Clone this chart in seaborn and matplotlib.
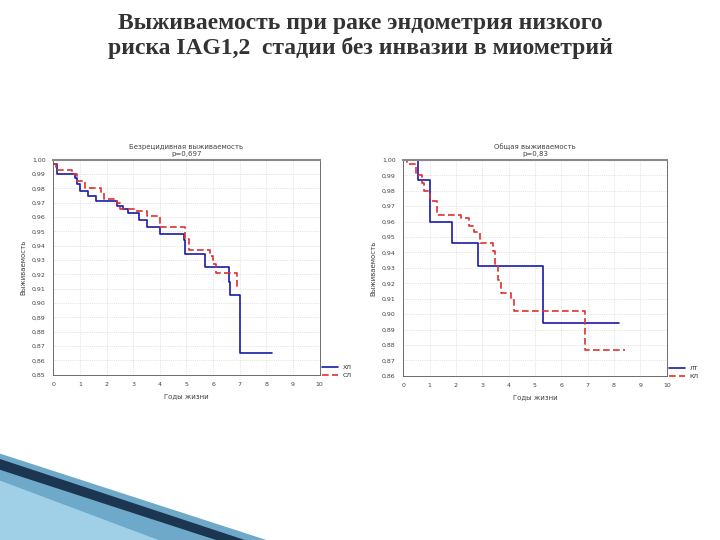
import matplotlib
matplotlib.use("Agg")
import matplotlib.pyplot as plt
import seaborn as sns
import pandas as pd
from matplotlib.patches import Polygon

sns.set_style("white")
plt.rcParams['font.family'] = ['DejaVu Sans']

title = "Выживаемость при раке эндометрия низкого\nриска IAG1,2  стадии без инвазии в миометрий"

# Left chart
l_title = "Безрецидивная выживаемость\np=0,697"
l_blue_x = [0, 0.15, 0.8, 0.9, 1.0, 1.3, 1.6, 2.4, 2.6, 2.8, 3.2, 3.5, 4.0, 4.9, 4.95, 5.7, 6.6, 6.65, 7.0, 8.2]
l_blue_y = [0.997, 0.99, 0.987, 0.983, 0.978, 0.975, 0.971, 0.968, 0.966, 0.963, 0.958, 0.953, 0.948, 0.944, 0.934, 0.925, 0.915, 0.906, 0.865, 0.865]
l_red_x = [0, 0.1, 0.7, 0.9, 1.2, 1.8, 1.9, 2.4, 2.5, 3.1, 3.5, 4.0, 4.95, 5.1, 5.9, 6.0, 6.1, 6.9]
l_red_y = [0.997, 0.993, 0.99, 0.985, 0.98, 0.977, 0.973, 0.97, 0.966, 0.964, 0.961, 0.953, 0.945, 0.937, 0.933, 0.927, 0.921, 0.91]
l_names = ["ХЛ", "СЛ"]

# Right chart
r_title = "Общая выживаемость\np=0,83"
r_blue_x = [0, 0.55, 1.0, 1.85, 2.85, 5.3, 8.2]
r_blue_y = [1.0, 0.987, 0.960, 0.946, 0.931, 0.894, 0.894]
r_red_x = [0, 0.15, 0.5, 0.7, 0.8, 1.0, 1.3, 2.2, 2.5, 2.7, 2.9, 3.4, 3.5, 3.6, 3.7, 4.1, 4.2, 6.9, 8.4]
r_red_y = [1.0, 0.997, 0.99, 0.985, 0.98, 0.973, 0.964, 0.962, 0.957, 0.953, 0.946, 0.941, 0.931, 0.922, 0.914, 0.909, 0.902, 0.877, 0.877]
r_names = ["ЛТ", "КЛ"]

fig = plt.figure(figsize=(7.2, 5.4), dpi=100)
fig.text(0.5, 0.975, title, ha='center', va='top', fontsize=17, fontweight='bold',
         family='Liberation Serif', color='#333333', linespacing=1.15)

def draw(rect, bx, by, rx, ry, names, ttl, ymin, xlabel):
    ax = fig.add_axes(rect)
    df = pd.concat([pd.DataFrame({'x': bx, 'y': by, 'g': names[0]}),
                    pd.DataFrame({'x': rx, 'y': ry, 'g': names[1]})])
    sns.lineplot(data=df, x='x', y='y', hue='g', style='g',
                 palette=['#1a1aa8', '#e03030'], dashes=[(None, None), (4, 2)],
                 drawstyle='steps-post', ax=ax, linewidth=1.2, estimator=None, sort=False)
    ax.set_xlim(0, 10)
    ax.set_ylim(ymin, 1.0)
    ax.set_xticks(range(0, 11))
    ticks = [round(1.0 - 0.01 * i, 2) for i in range(int(round((1 - ymin) / 0.01)) + 1)]
    ax.set_yticks(ticks)
    ax.set_yticklabels([f"{t:.2f}".replace('.', ',') for t in ticks])
    ax.tick_params(labelsize=4.5, length=2, colors='#444444')
    ax.grid(True, color='#cccccc', linestyle=':', linewidth=0.5)
    for s in ax.spines.values():
        s.set_color('#555555'); s.set_linewidth(0.6)
    ax.spines['top'].set_color('#888888'); ax.spines['top'].set_linewidth(1.5)
    ax.set_xlabel(xlabel, fontsize=5, color='#444444')
    ax.set_ylabel("Выживаемость", fontsize=5, color='#444444')
    ax.set_title(ttl, fontsize=5, color='#444444', pad=3)
    ax.legend(loc='upper left', bbox_to_anchor=(1.0, 0.06), fontsize=4.5, frameon=False,
              handlelength=2.5, borderaxespad=0)

draw([0.074, 0.306, 0.370, 0.398], l_blue_x, l_blue_y, l_red_x, l_red_y, l_names, l_title, 0.85, "Годы жизни")
draw([0.560, 0.304, 0.366, 0.400], r_blue_x, r_blue_y, r_red_x, r_red_y, r_names, r_title, 0.86, "Годы жизни")

# decorative bottom-left shapes
fig.patches.append(Polygon([[0, 0.16], [0.37, 0.0], [0.0, 0.0]], closed=True,
                           transform=fig.transFigure, facecolor='#6fa9c9', edgecolor='none'))
fig.patches.append(Polygon([[0, 0.15], [0.34, 0.0], [0.30, 0.0], [0, 0.13]], closed=True,
                           transform=fig.transFigure, facecolor='#1c3550', edgecolor='none'))
fig.patches.append(Polygon([[0, 0.11], [0.22, 0.0], [0.0, 0.0]], closed=True,
                           transform=fig.transFigure, facecolor='#9fd0e8', edgecolor='none'))

fig.savefig("out.png", dpi=100)
